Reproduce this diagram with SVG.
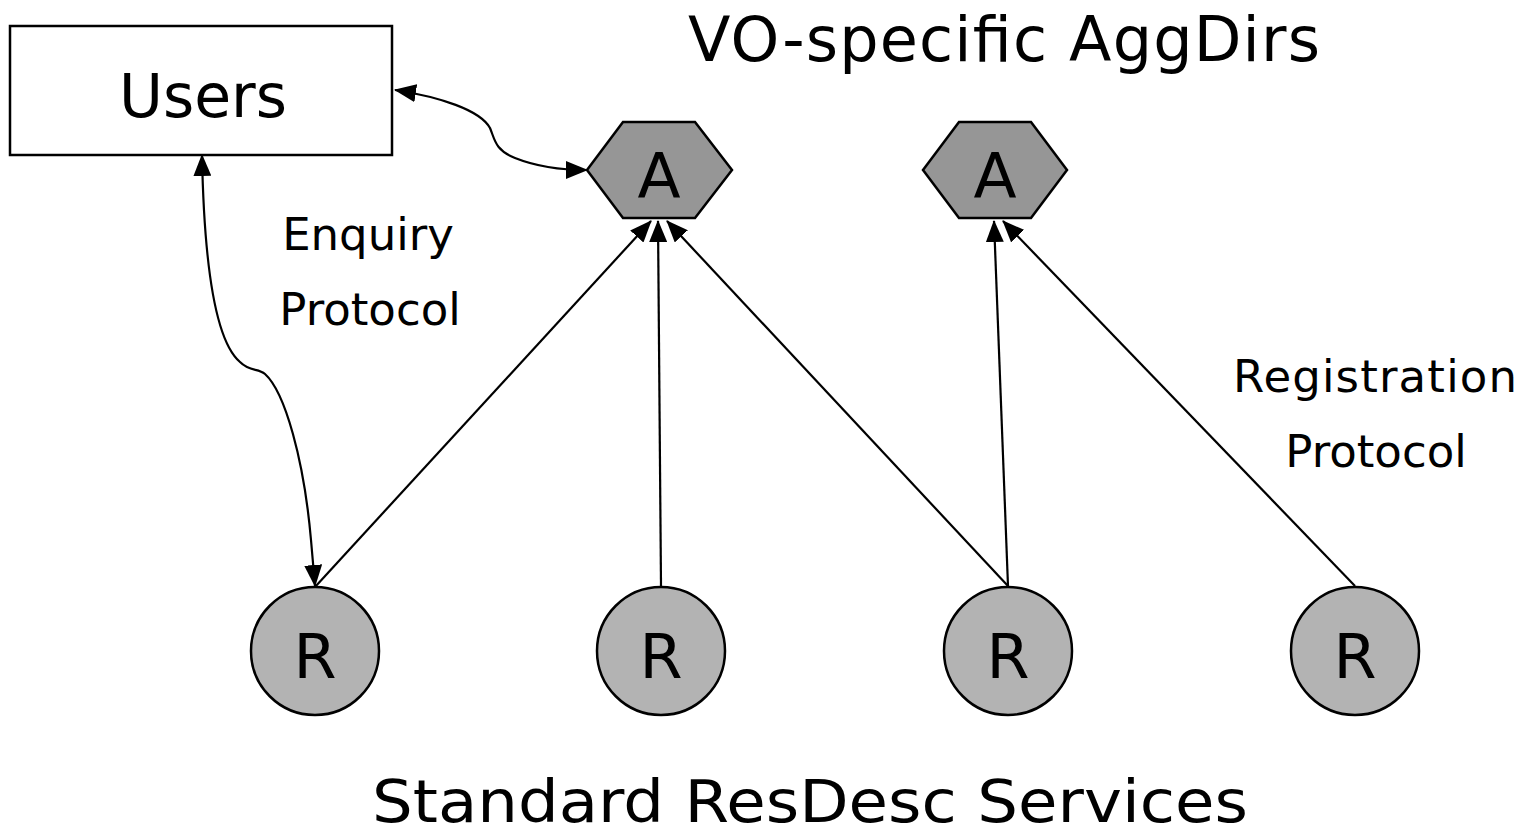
<svg xmlns="http://www.w3.org/2000/svg" width="1530" height="834" viewBox="0 0 1530 834">
<style>
text{font-family:"DejaVu Sans","Liberation Sans",sans-serif;fill:#000;text-anchor:middle}
.hex{fill:#969696;stroke:#000;stroke-width:2.5}
.res{fill:#b3b3b3;stroke:#000;stroke-width:2.5}
.box{fill:#fff;stroke:#000;stroke-width:2.5}
.edge{fill:none;stroke:#000;stroke-width:2.2}
</style>
<defs>
<marker id="arr" markerUnits="userSpaceOnUse" markerWidth="22" markerHeight="18" refX="21" refY="9" orient="auto-start-reverse" viewBox="0 0 22 18">
<path d="M0,0 L22,9 L0,18 z" fill="#000"/>
</marker>
</defs>
<rect width="1530" height="834" fill="#fff"/>
<text x="1004" y="61" font-size="62" textLength="632">VO-specific AggDirs</text>
<text x="810" y="822" font-size="59" textLength="876" lengthAdjust="spacingAndGlyphs">Standard ResDesc Services</text>
<text x="368" y="250" font-size="45">Enquiry</text>
<text x="370" y="325" font-size="45">Protocol</text>
<text x="1375" y="392" font-size="45" textLength="284">Registration</text>
<text x="1376" y="467" font-size="45">Protocol</text>
<g id="connectors">
<path class="edge" d="M395,90 C440,97 480,110 490,128 C495,140 495,150 515,158 C540,168 565,170 587,170" marker-start="url(#arr)" marker-end="url(#arr)"/>
<path class="edge" d="M202,155 C204,260 214,340 240,362 C250,372 258,368 265,374 C285,392 304,460 311,540 L315,586" marker-start="url(#arr)" marker-end="url(#arr)"/>
<line class="edge" x1="315" y1="587" x2="651" y2="221" marker-end="url(#arr)"/>
<line class="edge" x1="661" y1="586" x2="658" y2="221" marker-end="url(#arr)"/>
<line class="edge" x1="1008" y1="586" x2="667" y2="221" marker-end="url(#arr)"/>
<line class="edge" x1="1008" y1="586" x2="994" y2="221" marker-end="url(#arr)"/>
<line class="edge" x1="1355" y1="586" x2="1003" y2="221" marker-end="url(#arr)"/>
</g>
<g id="users">
<rect class="box" x="10" y="26" width="382" height="129"/>
<text x="203" y="117" font-size="60">Users</text>
</g>
<g id="aggdir1">
<polygon class="hex" points="587,170 623,122 695,122 732,170 695,218 623,218"/>
<text x="659" y="198" font-size="63">A</text>
</g>
<g id="aggdir2">
<polygon class="hex" points="923,170 959,122 1031,122 1067,170 1031,218 959,218"/>
<text x="995" y="198" font-size="63">A</text>
</g>
<g id="res1"><circle class="res" cx="315" cy="651" r="64"/><text x="315" y="678" font-size="62">R</text></g>
<g id="res2"><circle class="res" cx="661" cy="651" r="64"/><text x="661" y="678" font-size="62">R</text></g>
<g id="res3"><circle class="res" cx="1008" cy="651" r="64"/><text x="1008" y="678" font-size="62">R</text></g>
<g id="res4"><circle class="res" cx="1355" cy="651" r="64"/><text x="1355" y="678" font-size="62">R</text></g>
</svg>
